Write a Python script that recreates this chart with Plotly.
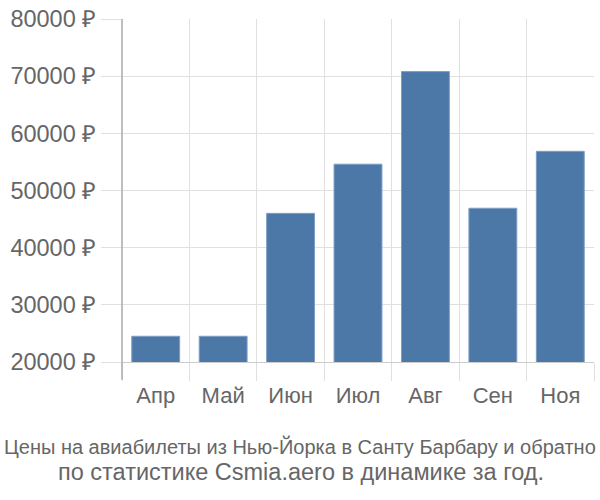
import plotly.graph_objects as go

months = ["Апр", "Май", "Июн", "Июл", "Авг", "Сен", "Ноя"]
prices = [24500, 24500, 46000, 54600, 70800, 46900, 56850]
y_ticks = [20000, 30000, 40000, 50000, 60000, 70000, 80000]
y_tick_text = [f"{v} ₽" for v in y_ticks]
title_lines = [
    "Цены на авиабилеты из Нью-Йорка в Санту Барбару и обратно",
    "по статистике Csmia.aero в динамике за год.",
]

grid = "#e0e0e0"
font = "Liberation Sans, Arial, sans-serif"

fig = go.Figure()
fig.add_trace(go.Bar(
    x=months, y=prices,
    marker=dict(color="#4c78a8", line=dict(color="#7d9dc4", width=1)),
    hoverinfo="skip",
))

fig.update_layout(
    width=600, height=500,
    margin=dict(l=122, r=6, t=15, b=138),
    paper_bgcolor="white", plot_bgcolor="white",
    bargap=0.29,
    showlegend=False,
    font=dict(family=font, color="#666666", size=22),
    xaxis=dict(
        type="category",
        tickson="boundaries",
        showgrid=True, gridcolor=grid, gridwidth=1,
        ticks="outside", ticklen=18, tickcolor=grid, tickwidth=1,
        ticklabelstandoff=14,
        showline=True, linecolor="#cccccc", linewidth=1,
        tickfont=dict(size=22, color="#666666"),
        fixedrange=True,
    ),
    yaxis=dict(
        range=[20000, 80000],
        tickvals=y_ticks, ticktext=y_tick_text,
        showgrid=True, gridcolor=grid, gridwidth=1,
        ticks="outside", ticklen=20, tickcolor=grid, tickwidth=1,
        showline=False,
        zeroline=False,
        tickfont=dict(size=23.5, color="#666666"),
        fixedrange=True,
    ),
    shapes=[dict(
        type="line", xref="paper", yref="paper",
        x0=0, x1=0, y0=-18 / 347, y1=1,
        line=dict(color="#aaaaaa", width=1.5),
    )],
    annotations=[
        dict(text=title_lines[0], xref="paper", yref="paper",
             x=(300 - 122) / 472, y=-(447 - 362) / 347, xanchor="center", yanchor="middle",
             showarrow=False, font=dict(family=font, size=20, color="#666666")),
        dict(text=title_lines[1], xref="paper", yref="paper",
             x=(301 - 122) / 472, y=-(473 - 362) / 347, xanchor="center", yanchor="middle",
             showarrow=False, font=dict(family=font, size=23.5, color="#666666")),
    ],
)

fig.write_html("out.html")
